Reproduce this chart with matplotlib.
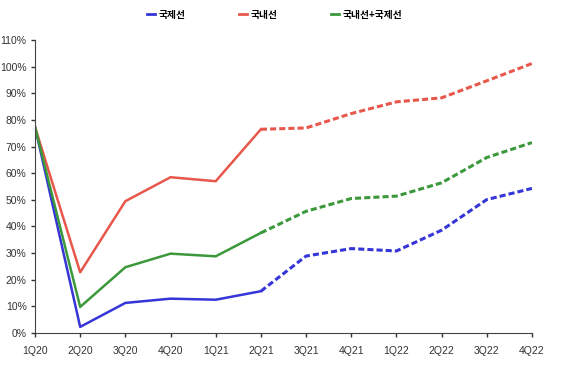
import matplotlib.pyplot as plt
from matplotlib.lines import Line2D
from matplotlib.ticker import FuncFormatter

quarters = ['1Q20', '2Q20', '3Q20', '4Q20', '1Q21', '2Q21',
            '3Q21', '4Q21', '1Q22', '2Q22', '3Q22', '4Q22']
intl = [77.4, 2.3, 11.3, 12.9, 12.5, 15.7, 28.9, 31.7, 30.8, 38.6, 50.1, 54.3]
dom = [77.4, 22.8, 49.5, 58.5, 57.0, 76.5, 77.0, 82.4, 86.8, 88.3, 94.7, 101.2]
total = [77.4, 9.8, 24.7, 29.8, 28.8, 37.6, 45.7, 50.5, 51.4, 56.4, 65.9, 71.5]
names = ['국제선', '국내선', '국내선+국제선']
colors = ['#3535d8', '#e8574c', '#3b983b']
split = 5  # 2Q21: actual -> forecast

plt.rcParams['font.family'] = ['Liberation Sans', 'DejaVu Sans']

fig = plt.figure(figsize=(5.61, 3.71), dpi=100)
ax = fig.add_axes([0.0624, 0.1024, 0.8858, 0.7896])
x = list(range(len(quarters)))

for vals, c in zip([intl, dom, total], colors):
    ax.plot(x[:split + 1], vals[:split + 1], color=c, lw=1.8)
    ax.plot(x[split:], vals[split:], color=c, lw=2.2, ls=(0, (2, 1)))

ax.set_xlim(0, len(quarters) - 1)
ax.set_ylim(0, 110)
ax.set_yticks(range(0, 111, 10))
ax.yaxis.set_major_formatter(FuncFormatter(lambda v, p: f'{v:.0f}%'))
ax.set_xticks(x)
ax.set_xticklabels(quarters)
ax.tick_params(labelsize=7.5, colors='#333333', length=3, width=1)
ax.tick_params(axis='y', pad=3)
ax.tick_params(axis='x', pad=6)
ax.spines['top'].set_visible(False)
ax.spines['right'].set_visible(False)
for s in ['left', 'bottom']:
    ax.spines[s].set_color('#444444')

handles = [Line2D([0], [0], color=c, lw=2) for c in colors]
fig.legend(handles, names, loc='center', bbox_to_anchor=(0.49, 0.96),
           ncol=3, frameon=False, handlelength=0.8, handletextpad=0.4,
           columnspacing=5.5,
           prop={'family': ['Noto Sans CJK KR', 'DejaVu Sans'], 'size': 7, 'weight': 'bold'})

fig.savefig('out.png', dpi=100)
